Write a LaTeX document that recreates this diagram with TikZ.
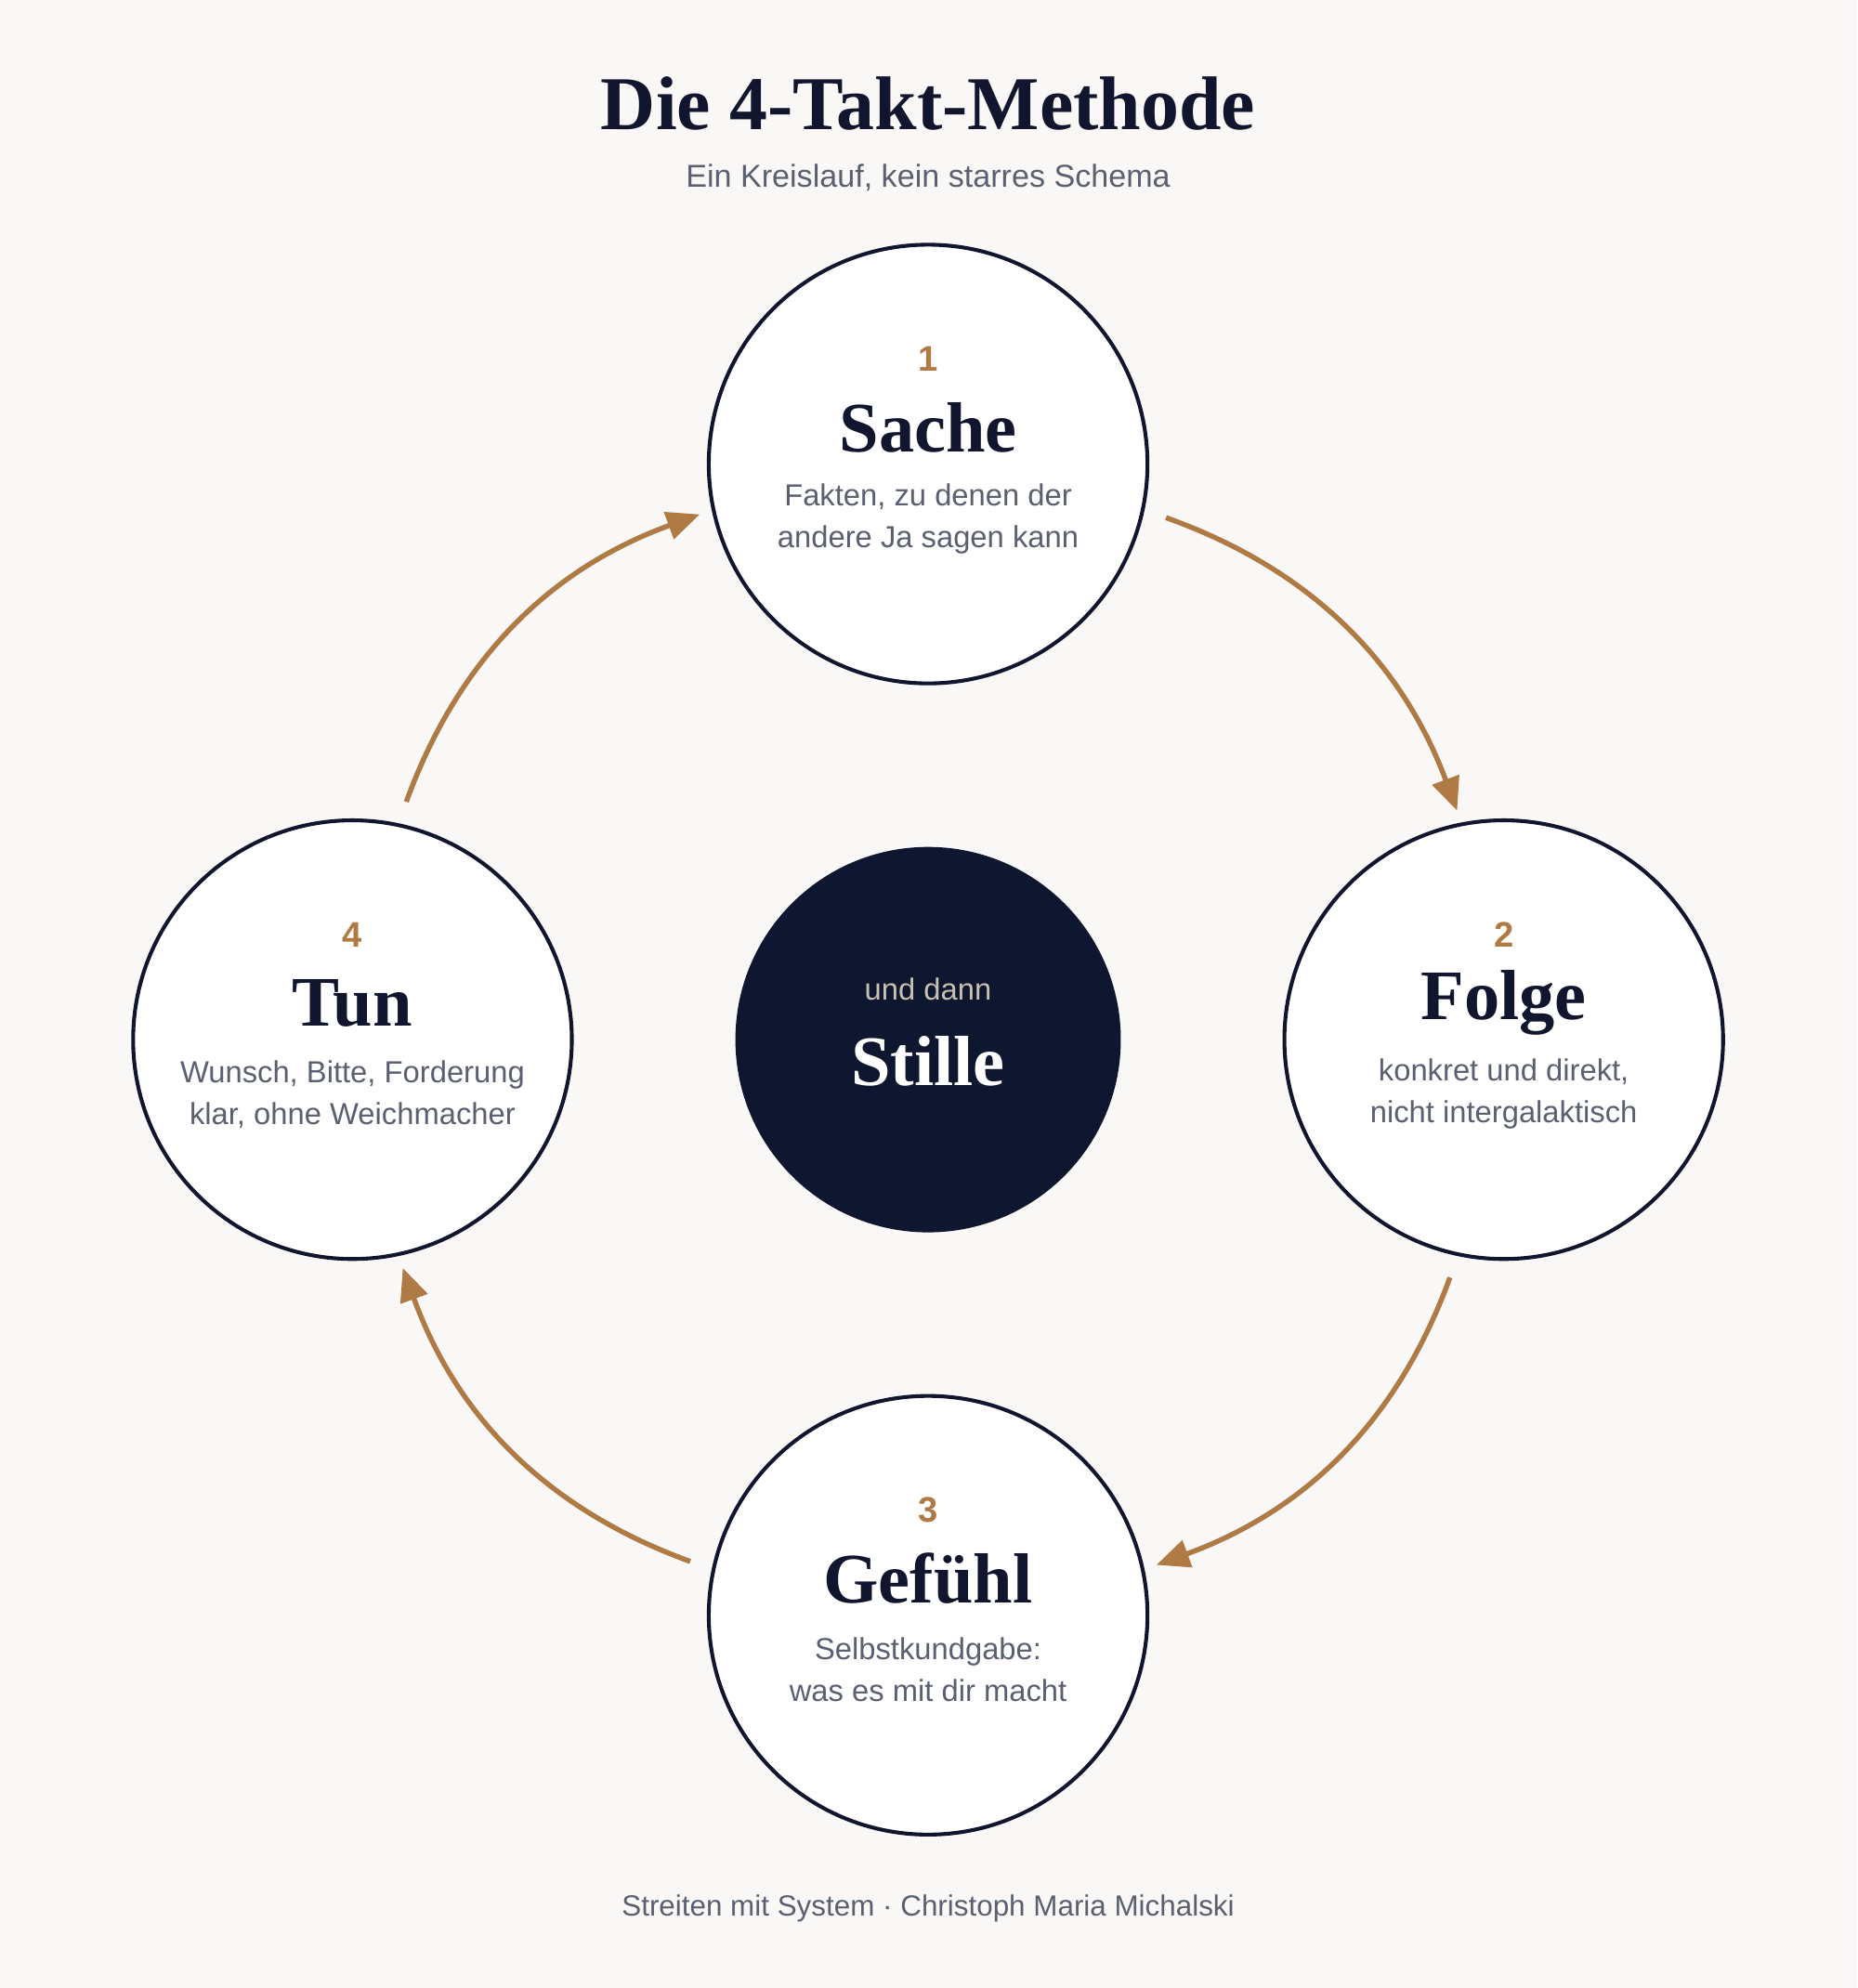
\documentclass[tikz,border=0pt]{standalone}
\usepackage{fontspec}
\setmainfont{Liberation Serif}
\setsansfont{Liberation Sans}
\usetikzlibrary{arrows.meta,calc}
\definecolor{bg}{HTML}{FAF8F6}
\definecolor{ink}{HTML}{11162E}
\definecolor{night}{HTML}{0F1630}
\definecolor{bronze}{HTML}{B07A45}
\definecolor{muted}{HTML}{5A6070}
\definecolor{pale}{HTML}{C8C0B0}
\tikzset{
  takt/.style={circle,draw=ink,line width=1.5pt,fill=white,minimum size=173pt,inner sep=0pt},
  num/.style={font=\sffamily\bfseries\fontsize{14}{16}\selectfont,text=bronze},
  head/.style={font=\bfseries\fontsize{28}{32}\selectfont,text=ink},
  desc/.style={font=\sffamily\fontsize{12}{16.5}\selectfont,text=muted,align=center},
  flow/.style={bronze,line width=2pt,-{Triangle[length=13pt,width=11pt]},shorten <=9pt,shorten >=5pt},
}
\newcommand{\taktinhalt}[5]{%
  \node[num] (#1num) at ($(#1)+(0,-83)$) {#2};
  \node[head] (#1head) at ($(#1)+(0,-29)$) {#3};
  \node[desc] (#1desc) at ($(#1)+(0,43)$) {#4\\#5};
}
\begin{document}
\begin{tikzpicture}[x=0.5pt,y=-0.5pt]
\fill[bg] (0,0) rectangle (1465,1568);
\useasboundingbox (0,0) rectangle (1465,1568);
\node[font=\bfseries\fontsize{30}{34}\selectfont,text=ink] (title) at (732,82) {Die 4-Takt-Methode};
\node[font=\sffamily\fontsize{12.5}{15}\selectfont,text=muted] (sub) at (732,140) {Ein Kreislauf, kein starres Schema};

\node[takt] (sache) at (732,366) {};
\node[takt] (folge) at (1186,820) {};
\node[takt] (gefuehl) at (732,1274) {};
\node[takt] (tun) at (278,820) {};
\node[circle,fill=night,minimum size=152pt,inner sep=0pt] (mitte) at (732,820) {};

\taktinhalt{sache}{1}{Sache}{Fakten, zu denen der}{andere Ja sagen kann}
\taktinhalt{folge}{2}{Folge}{konkret und direkt,}{nicht intergalaktisch}
\taktinhalt{gefuehl}{3}{Gefühl}{Selbstkundgabe:}{was es mit dir macht}
\taktinhalt{tun}{4}{Tun}{Wunsch, Bitte, Forderung}{klar, ohne Weichmacher}

\node[font=\sffamily\fontsize{12}{14}\selectfont,text=pale] (und) at ($(mitte)+(0,-40)$) {und dann};
\node[font=\bfseries\fontsize{28}{32}\selectfont,text=white] (stille) at ($(mitte)+(0,17)$) {Stille};

\draw[flow] (sache.-12) to[bend left=25] (folge.101);
\draw[flow] (folge.-102) to[bend left=25] (gefuehl.12);
\draw[flow] (gefuehl.168) to[bend left=25] (tun.-78);
\draw[flow] (tun.78) to[bend left=25] (sache.-168);

\node[font=\sffamily\fontsize{11.5}{14}\selectfont,text=muted] (fuss) at (732,1505) {Streiten mit System · Christoph Maria Michalski};
\end{tikzpicture}
\end{document}
